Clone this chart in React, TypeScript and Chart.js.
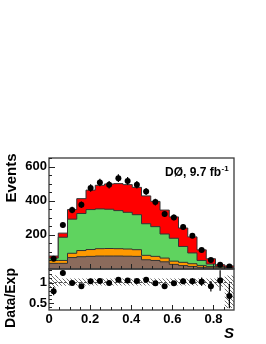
import React, { useEffect, useRef } from 'react';
import { Chart, registerables } from 'chart.js';

Chart.register(...registerables);

// ---- data ----
const binEdges = [0, 0.045, 0.09, 0.135, 0.18, 0.225, 0.27, 0.315, 0.36, 0.405, 0.45, 0.495, 0.54, 0.585, 0.63, 0.675, 0.72, 0.765, 0.81, 0.855, 0.9];
const bkgBrown = [33, 33, 67, 72, 74, 76, 76, 76, 75, 74, 54, 50, 42, 27, 20, 15, 10, 7, 4, 2];
const bkgOrange = [17, 17, 25, 36, 40, 43, 44, 43, 42, 39, 26, 24, 22, 19, 19, 16, 11, 8, 6, 3];
const bkgGreen = [14, 136, 200, 217, 234, 233, 230, 223, 215, 205, 185, 174, 141, 134, 93, 63, 29, 14, 5, 3];
const bkgRed = [12, 24, 56, 87, 114, 138, 148, 158, 162, 160, 163, 148, 140, 125, 108, 94, 62, 31, 10, 10];
const dataEvents = [60, 257, 345, 376, 474, 507, 493, 532, 516, 493, 454, 392, 322, 302, 246, 195, 111, 53, 25, 14];
const dataErrors = [8, 16, 19, 19, 22, 22, 22, 23, 23, 22, 21, 20, 18, 17, 16, 14, 11, 7, 5, 4];
const ratioValues = [0.79, 1.23, 0.99, 0.91, 1.03, 1.04, 0.99, 1.07, 1.05, 1.04, 1.07, 0.98, 0.91, 0.98, 1.03, 1.03, 1.02, 0.91, 1.05, 0.67];
const ratioErrors = [0.1, 0.07, 0.055, 0.05, 0.05, 0.045, 0.045, 0.045, 0.045, 0.045, 0.05, 0.05, 0.05, 0.055, 0.07, 0.08, 0.1, 0.13, 0.25, 0.3];
const systLow = [0.88, 0.92, 0.93, 0.93, 0.93, 0.93, 0.93, 0.93, 0.93, 0.93, 0.93, 0.93, 0.93, 0.93, 0.93, 0.93, 0.92, 0.92, 0.9, 0.38];
const systHigh = [1.18, 1.1, 1.1, 1.1, 1.1, 1.1, 1.1, 1.1, 1.1, 1.1, 1.1, 1.1, 1.1, 1.1, 1.1, 1.1, 1.1, 1.1, 1.12, 1.17];
const xTickLabels = [0, 0.2, 0.4, 0.6, 0.8];
const yTickLabels = [200, 400, 600];
const ratioTickLabels = [0.5, 1];

const FONT = '"Liberation Sans", Arial, Helvetica, sans-serif';
const RED = '#ff0000';
const GREEN = '#5fd35f';
const ORANGE = '#ff9900';
const BROWN = '#8b6b5c';
const OUTLINE = '#333333';

const centers = binEdges.slice(0, -1).map((e, i) => (e + binEdges[i + 1]) / 2);
const stepData = (vals: number[]) =>
  binEdges.map((x, i) => ({ x, y: vals[Math.min(i, vals.length - 1)] }));

const lvlBrown = bkgBrown.slice();
const lvlOrange = lvlBrown.map((v, i) => v + bkgOrange[i]);
const lvlGreen = lvlOrange.map((v, i) => v + bkgGreen[i]);
const lvlRed = lvlGreen.map((v, i) => v + bkgRed[i]);

function makeHatch(): CanvasPattern | string {
  const c = document.createElement('canvas');
  c.width = 4;
  c.height = 4;
  const g = c.getContext('2d');
  if (!g) return '#bbb';
  g.strokeStyle = '#6f6f6f';
  g.lineWidth = 1;
  g.beginPath();
  g.moveTo(-1, -1);
  g.lineTo(5, 5);
  g.stroke();
  return g.createPattern(c, 'repeat') || '#bbb';
}

const decor = {
  id: 'decor',
  afterDatasetsDraw(chart: any) {
    const ctx = chart.ctx as CanvasRenderingContext2D;
    const x = chart.scales.x;
    const y = chart.scales.y;
    const yr = chart.scales.yr;
    ctx.save();
    ctx.strokeStyle = '#000';
    ctx.lineWidth = 1.2;
    centers.forEach((c, i) => {
      const px = x.getPixelForValue(c);
      ctx.beginPath();
      ctx.moveTo(px, y.getPixelForValue(dataEvents[i] - dataErrors[i]));
      ctx.lineTo(px, y.getPixelForValue(dataEvents[i] + dataErrors[i]));
      ctx.stroke();
      ctx.beginPath();
      ctx.moveTo(px, yr.getPixelForValue(ratioValues[i] - ratioErrors[i]));
      ctx.lineTo(px, yr.getPixelForValue(ratioValues[i] + ratioErrors[i]));
      ctx.stroke();
    });
    ctx.restore();
  },
  afterDraw(chart: any) {
    const ctx = chart.ctx as CanvasRenderingContext2D;
    const x = chart.scales.x;
    const y = chart.scales.y;
    const yr = chart.scales.yr;
    ctx.save();
    // frames
    ctx.strokeStyle = '#3a3a3a';
    ctx.lineWidth = 1.3;
    ctx.strokeRect(x.left, y.top, x.right - x.left, y.bottom - y.top);
    ctx.strokeRect(x.left, yr.top, x.right - x.left, yr.bottom - yr.top);
    // ticks
    ctx.lineWidth = 1;
    ctx.strokeStyle = '#222';
    ctx.beginPath();
    for (let k = 1; k <= 13; k++) {
      const v = k * 50;
      const py = Math.round(y.getPixelForValue(v)) + 0.5;
      const len = k % 4 === 0 ? 6 : 3;
      ctx.moveTo(x.left, py);
      ctx.lineTo(x.left + len, py);
    }
    for (let k = 4; k <= 13; k++) {
      const v = k / 10;
      const py = Math.round(yr.getPixelForValue(v)) + 0.5;
      const len = k === 5 || k === 10 ? 5 : 3;
      ctx.moveTo(x.left, py);
      ctx.lineTo(x.left + len, py);
    }
    for (let k = 1; k <= 17; k++) {
      const px = Math.round(x.getPixelForValue(k * 0.05)) + 0.5;
      const len = k % 4 === 0 ? 5 : 3;
      ctx.moveTo(px, y.bottom);
      ctx.lineTo(px, y.bottom - len);
      ctx.moveTo(px, yr.bottom);
      ctx.lineTo(px, yr.bottom - len);
    }
    ctx.stroke();
    // titles
    ctx.fillStyle = '#000';
    ctx.textAlign = 'center';
    ctx.textBaseline = 'middle';
    ctx.font = `bold 15px ${FONT}`;
    ctx.save();
    ctx.translate(12, 178);
    ctx.rotate(-Math.PI / 2);
    ctx.fillText('Events', 0, 0);
    ctx.restore();
    ctx.save();
    ctx.font = `bold 14px ${FONT}`;
    ctx.translate(11, 298);
    ctx.rotate(-Math.PI / 2);
    ctx.fillText('Data/Exp', 0, 0);
    ctx.restore();
    ctx.font = `italic bold 15px ${FONT}`;
    ctx.fillText('S', 229, 334);
    // label
    ctx.textAlign = 'left';
    ctx.textBaseline = 'alphabetic';
    ctx.font = `bold 12px ${FONT}`;
    const main = 'DØ, 9.7 fb';
    ctx.fillText(main, 165, 176);
    const w = ctx.measureText(main).width;
    ctx.font = `bold 8px ${FONT}`;
    ctx.fillText('-1', 165 + w + 0.5, 171);
    ctx.restore();
  },
};

export default function App() {
  const ref = useRef<HTMLCanvasElement>(null);
  useEffect(() => {
    if (!ref.current) return;
    const hatch = makeHatch();
    const tickFont = { family: FONT, size: 13, weight: 'bold' as const };
    const layer = (vals: number[], color: string, order: number) => ({
      data: stepData(vals),
      stepped: true,
      fill: 'origin',
      backgroundColor: color,
      borderColor: OUTLINE,
      borderWidth: 1,
      pointRadius: 0,
      yAxisID: 'y',
      order,
    });
    const chart = new Chart(ref.current, {
      type: 'line',
      data: {
        datasets: [
          {
            data: centers.map((c, i) => ({ x: c, y: dataEvents[i] })),
            showLine: false,
            pointRadius: 3,
            pointBackgroundColor: '#000',
            pointBorderWidth: 0,
            yAxisID: 'y',
            order: 0,
          },
          {
            data: centers.map((c, i) => ({ x: c, y: ratioValues[i] })),
            showLine: false,
            pointRadius: 3,
            pointBackgroundColor: '#000',
            pointBorderWidth: 0,
            yAxisID: 'yr',
            order: 0,
          },
          layer(lvlBrown, BROWN, 1),
          layer(lvlOrange, ORANGE, 2),
          layer(lvlGreen, GREEN, 3),
          layer(lvlRed, RED, 4),
          {
            data: [
              { x: 0, y: 1 },
              { x: 0.9, y: 1 },
            ],
            borderColor: '#555',
            borderWidth: 1,
            borderDash: [3, 2],
            pointRadius: 0,
            yAxisID: 'yr',
            order: 5,
          },
          {
            data: stepData(systHigh),
            stepped: true,
            fill: '+1',
            backgroundColor: hatch,
            borderColor: 'rgba(0,0,0,0)',
            borderWidth: 0,
            pointRadius: 0,
            yAxisID: 'yr',
            order: 6,
          },
          {
            data: stepData(systLow),
            stepped: true,
            fill: false,
            borderColor: 'rgba(0,0,0,0)',
            borderWidth: 0,
            pointRadius: 0,
            yAxisID: 'yr',
            order: 7,
          },
        ] as any,
      },
      options: {
        animation: false,
        responsive: false,
        devicePixelRatio: 1,
        events: [],
        layout: { padding: { left: 0, top: 158, right: 32, bottom: 0 } },
        plugins: { legend: { display: false }, tooltip: { enabled: false } },
        scales: {
          x: {
            type: 'linear',
            min: 0,
            max: 0.9,
            position: 'bottom',
            grid: { display: false, drawTicks: false },
            border: { display: false },
            afterBuildTicks: (s: any) => {
              s.ticks = xTickLabels.map((v) => ({ value: v }));
            },
            afterFit: (s: any) => {
              s.height = 34;
            },
            ticks: {
              font: tickFont,
              color: '#000',
              padding: 2,
              maxRotation: 0,
              autoSkip: false,
              callback: (v: any) => String(v),
            },
          },
          yr: {
            type: 'linear',
            min: 0.33,
            max: 1.33,
            position: 'left',
            stack: 'panels',
            stackWeight: 41,
            grid: { display: false, drawTicks: false },
            border: { display: false },
            afterBuildTicks: (s: any) => {
              s.ticks = ratioTickLabels.map((v) => ({ value: v }));
            },
            afterFit: (s: any) => {
              s.width = 49;
            },
            ticks: { font: tickFont, color: '#000', padding: 2, callback: (v: any) => String(v) },
          },
          y: {
            type: 'linear',
            min: 0,
            max: 650,
            position: 'left',
            stack: 'panels',
            stackWeight: 111,
            grid: { display: false, drawTicks: false },
            border: { display: false },
            afterBuildTicks: (s: any) => {
              s.ticks = yTickLabels.map((v) => ({ value: v }));
            },
            afterFit: (s: any) => {
              s.width = 49;
            },
            ticks: { font: tickFont, color: '#000', padding: 2, callback: (v: any) => String(v) },
          },
        },
      } as any,
      plugins: [decor],
    });
    return () => chart.destroy();
  }, []);
  return (
    <div style={{ position: 'fixed', left: 0, top: 0, width: 266, height: 344, background: '#fff' }}>
      <canvas ref={ref} width={266} height={344} style={{ display: 'block' }} />
    </div>
  );
}
